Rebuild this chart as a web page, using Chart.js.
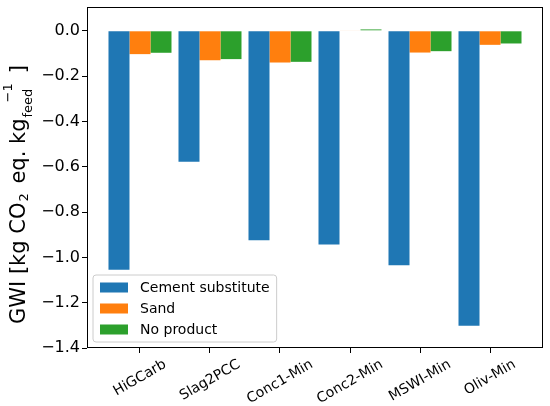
<!DOCTYPE html>
<html>
<head>
<meta charset="utf-8">
<script src="https://cdn.jsdelivr.net/npm/chart.js@4.4.1/dist/chart.umd.min.js"></script>
<style>
html,body{margin:0;padding:0;background:#fff;}
#wrap{width:550px;height:406px;position:relative;}
</style>
</head>
<body>
<div id="wrap"><canvas id="c"></canvas></div>
<script>
const categories = ['HiGCarb', 'Slag2PCC', 'Conc1-Min', 'Conc2-Min', 'MSWI-Min', 'Oliv-Min'];
const cementSubstitute = [-1.055, -0.578, -0.924, -0.943, -1.035, -1.302];
const sand = [-0.103, -0.130, -0.140, 0.002, -0.096, -0.062];
const noProduct = [-0.097, -0.125, -0.137, 0.006, -0.090, -0.056];
const seriesNames = ['Cement substitute', 'Sand', 'No product'];
const yTicks = [0.0, -0.2, -0.4, -0.6, -0.8, -1.0, -1.2, -1.4];

const FONT = "'DejaVu Sans', sans-serif";
const colors = ['#1f77b4', '#ff7f0e', '#2ca02c'];

function toPoints(arr) { return arr.map((v, i) => ({x: i, y: v})); }

const framePlugin = {
  id: 'frame',
  afterDatasetsDraw(chart) {
    const {ctx, chartArea: a} = chart;
    ctx.save();
    ctx.strokeStyle = '#000';
    ctx.lineWidth = 1;
    ctx.strokeRect(Math.round(a.left) + 0.5, Math.round(a.top) + 0.5,
                   Math.round(a.right - a.left) - 1, Math.round(a.bottom - a.top) - 1);
    ctx.restore();
  }
};

const xLabelPlugin = {
  id: 'xlabels',
  afterDraw(chart) {
    const {ctx, chartArea: a} = chart;
    const xs = chart.scales.x;
    const ang = 30 * Math.PI / 180;
    ctx.save();
    ctx.font = '14px ' + FONT;
    ctx.fillStyle = '#000';
    ctx.textAlign = 'center';
    ctx.textBaseline = 'middle';
    categories.forEach((lab, i) => {
      const px = xs.getPixelForValue(i);
      const w = ctx.measureText(lab).width;
      const h = 15;
      const H = w * Math.sin(ang) + h * Math.cos(ang);
      const top = a.bottom + 9;
      ctx.save();
      ctx.translate(px, top + H / 2);
      ctx.rotate(-ang);
      ctx.fillText(lab, 0, 0);
      ctx.restore();
    });
    ctx.restore();
  }
};

const yTitlePlugin = {
  id: 'ytitle',
  afterDraw(chart) {
    const {ctx} = chart;
    const big = 21, small = 13;
    ctx.save();
    ctx.translate(25, 324);
    ctx.rotate(-Math.PI / 2);
    ctx.fillStyle = '#000';
    ctx.textBaseline = 'alphabetic';
    ctx.textAlign = 'left';
    let u = 0;
    const part = (t, size, dv, at) => {
      ctx.font = size + 'px ' + FONT;
      ctx.fillText(t, at, dv);
      return ctx.measureText(t).width;
    };
    u += part('GWI [kg CO', big, 0, u) + 1;
    u += part('2', small, 3, u) + 3;
    u += part(' eq. kg', big, 0, u) + 1;
    const wf = part('feed', small, 6.5, u);
    const ws = part('\u22121', small, -13, u + wf * 0.52);
    u += Math.max(wf, wf * 0.52 + ws) + 10;
    part(']', big, 0, u);
    ctx.restore();
  }
};

const legendPlugin = {
  id: 'boxlegend',
  afterDraw(chart) {
    const {ctx, chartArea: a} = chart;
    ctx.save();
    ctx.font = '14px ' + FONT;
    const ds = chart.data.datasets;
    let tw = 0;
    ds.forEach(d => { tw = Math.max(tw, ctx.measureText(d.label).width); });
    const rowH = 21;
    const bx = a.left + 6;
    const bh = 67;
    const by = a.bottom - 6 - bh;
    const bw = 47 + tw + 7;
    const r = 3;
    ctx.beginPath();
    ctx.moveTo(bx + r, by);
    ctx.arcTo(bx + bw, by, bx + bw, by + bh, r);
    ctx.arcTo(bx + bw, by + bh, bx, by + bh, r);
    ctx.arcTo(bx, by + bh, bx, by, r);
    ctx.arcTo(bx, by, bx + bw, by, r);
    ctx.closePath();
    ctx.fillStyle = 'rgba(255,255,255,0.8)';
    ctx.fill();
    ctx.strokeStyle = '#cccccc';
    ctx.lineWidth = 1;
    ctx.stroke();
    ds.forEach((d, i) => {
      const cy = by + 12.5 + i * rowH;
      ctx.fillStyle = d.backgroundColor;
      ctx.fillRect(bx + 7, cy - 5, 28, 10);
      ctx.fillStyle = '#000';
      ctx.textBaseline = 'middle';
      ctx.textAlign = 'left';
      ctx.fillText(d.label, bx + 47, cy + 1);
    });
    ctx.restore();
  }
};

new Chart(document.getElementById('c'), {
  type: 'bar',
  data: {
    datasets: [
      {label: seriesNames[0], data: toPoints(cementSubstitute), backgroundColor: colors[0]},
      {label: seriesNames[1], data: toPoints(sand), backgroundColor: colors[1]},
      {label: seriesNames[2], data: toPoints(noProduct), backgroundColor: colors[2]}
    ]
  },
  options: {
    responsive: true,
    maintainAspectRatio: false,
    animation: false,
    devicePixelRatio: 1,
    layout: {padding: {top: 7, right: 7, left: 0, bottom: 0}},
    datasets: {bar: {categoryPercentage: 0.9, barPercentage: 1.0, borderWidth: 0}},
    plugins: {legend: {display: false}, tooltip: {enabled: false}},
    scales: {
      x: {
        type: 'linear',
        min: -0.757,
        max: 5.757,
        offset: false,
        grid: {drawOnChartArea: false, drawTicks: true, tickLength: 5, color: '#000', offset: false},
        border: {display: false},
        ticks: {display: false},
        afterBuildTicks(s) { s.ticks = categories.map((c, i) => ({value: i})); },
        afterFit(s) { s.height = 58; s.paddingLeft = 0; s.paddingRight = 0; }
      },
      y: {
        type: 'linear',
        min: -1.4,
        max: 0.105,
        grid: {drawOnChartArea: false, drawTicks: true, tickLength: 5, color: '#000'},
        border: {display: false},
        ticks: {
          padding: 2,
          color: '#000',
          font: {family: FONT, size: 16},
          callback: v => (v < 0 ? '\u2212' : '') + Math.abs(v).toFixed(1)
        },
        afterBuildTicks(s) { s.ticks = yTicks.map(v => ({value: v})); },
        afterFit(s) { s.width = 87; s.paddingTop = 0; s.paddingBottom = 0; }
      }
    }
  },
  plugins: [framePlugin, xLabelPlugin, yTitlePlugin, legendPlugin]
});
</script>
</body>
</html>
